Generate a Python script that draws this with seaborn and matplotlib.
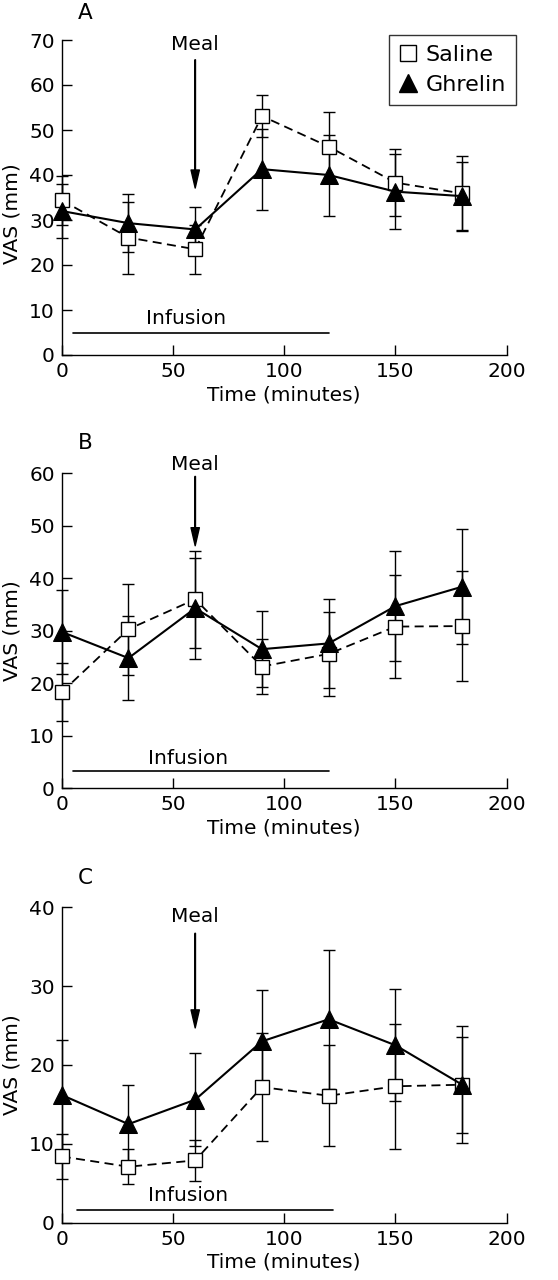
import matplotlib
matplotlib.use("Agg")
import matplotlib.pyplot as plt
import seaborn as sns
import pandas as pd
from matplotlib.lines import Line2D

# ---------------- data ----------------
time = [0, 30, 60, 90, 120, 150, 180]
xticks = [0, 50, 100, 150, 200]

A_saline = [34.4, 26.1, 23.5, 53.1, 46.3, 38.3, 35.9]
A_saline_err = [5.4, 8.0, 5.5, 4.7, 7.8, 7.4, 8.3]
A_ghrelin = [32.0, 29.3, 27.9, 41.3, 40.0, 36.3, 35.3]
A_ghrelin_err = [6.0, 6.5, 4.9, 9.0, 9.0, 8.4, 7.5]

B_saline = [18.3, 30.3, 36.0, 23.2, 25.6, 30.8, 30.9]
B_saline_err = [5.5, 8.7, 9.2, 5.3, 8.0, 9.8, 10.5]
B_ghrelin = [29.8, 24.8, 34.3, 26.5, 27.6, 34.7, 38.4]
B_ghrelin_err = [8.0, 8.0, 9.6, 7.2, 8.4, 10.5, 10.9]

C_saline = [8.4, 7.1, 7.9, 17.2, 16.1, 17.3, 17.5]
C_saline_err = [2.8, 2.2, 2.6, 6.8, 6.4, 7.9, 6.1]
C_ghrelin = [16.2, 12.5, 15.6, 23.0, 25.8, 22.5, 17.5]
C_ghrelin_err = [7.0, 5.0, 5.9, 6.5, 8.8, 7.1, 7.4]

panel_letters = ["A", "B", "C"]
ymax_list = [70, 60, 40]

# ---------------- style ----------------
sns.set_style("ticks")
plt.rcParams['font.family'] = ['DejaVu Sans']
plt.rcParams['text.color'] = 'black'
plt.rcParams['axes.labelcolor'] = 'black'
plt.rcParams['xtick.color'] = 'black'
plt.rcParams['ytick.color'] = 'black'
FS = 14.5

fig = plt.figure(figsize=(5.58, 12.8), dpi=100)

W = 558.0
H = 1280.0
ax_left_px, ax_right_px = 61.7, 506.7
panel_px = [(355.0, 40.0), (788.3, 473.3), (1222.7, 907.3)]
letter_y_px = [13, 443, 878]

layout = [
    dict(meal_y=68.9, a0=65.6, a1=37.1, inf_y=5.0, ix0=5, ix1=120, tx=55.7, ty=8.1, ylab_y=0.45),
    dict(meal_y=61.6, a0=59.4, a1=46.2, inf_y=3.3, ix0=5, ix1=120, tx=57, ty=5.7, ylab_y=0.5),
    dict(meal_y=38.8, a0=36.7, a1=24.7, inf_y=1.6, ix0=6.7, ix1=122, tx=57, ty=3.5, ylab_y=0.5),
]

series = [
    (A_saline, A_saline_err, A_ghrelin, A_ghrelin_err),
    (B_saline, B_saline_err, B_ghrelin, B_ghrelin_err),
    (C_saline, C_saline_err, C_ghrelin, C_ghrelin_err),
]

for i in range(3):
    bpx, tpx = panel_px[i]
    ax = fig.add_axes([ax_left_px / W, 1 - bpx / H,
                       (ax_right_px - ax_left_px) / W, (bpx - tpx) / H])
    sal, sal_e, ghr, ghr_e = series[i]
    lay = layout[i]

    ax.errorbar(time, sal, yerr=sal_e, fmt='none', ecolor='black',
                elinewidth=1.0, capsize=4.5, capthick=1.0, zorder=2, clip_on=False)
    ax.errorbar(time, ghr, yerr=ghr_e, fmt='none', ecolor='black',
                elinewidth=1.0, capsize=4.5, capthick=1.0, zorder=2, clip_on=False)

    df_s = pd.DataFrame({"Time": time, "VAS": sal})
    df_g = pd.DataFrame({"Time": time, "VAS": ghr})
    sns.lineplot(data=df_s, x="Time", y="VAS", ax=ax, color='black',
                 linestyle=(0, (5, 3)), linewidth=1.3, marker='s', markersize=10.5,
                 markerfacecolor='white', markeredgecolor='black', markeredgewidth=1.0,
                 zorder=3, clip_on=False)
    sns.lineplot(data=df_g, x="Time", y="VAS", ax=ax, color='black',
                 linestyle='-', linewidth=1.5, marker='^', markersize=12.5,
                 markerfacecolor='black', markeredgecolor='black',
                 zorder=4, clip_on=False)

    ax.set_xlim(0, 200)
    ax.set_ylim(0, ymax_list[i])
    ax.set_xticks(xticks)
    ax.set_yticks(list(range(0, ymax_list[i] + 1, 10)))
    sns.despine(ax=ax)
    for s in ['left', 'bottom']:
        ax.spines[s].set_linewidth(1.0)
        ax.spines[s].set_color('black')
    ax.tick_params(axis='both', direction='in', length=7, width=1.0,
                   labelsize=FS, colors='black', pad=5)
    ax.set_xlabel("Time (minutes)", fontsize=FS, labelpad=3)
    ax.set_ylabel("VAS (mm)", fontsize=FS)
    ax.yaxis.set_label_coords(-0.09, lay['ylab_y'])

    ax.text(60, lay['meal_y'], "Meal", ha='center', va='center', fontsize=FS,
            clip_on=False)
    ax.annotate('', xy=(60, lay['a1']), xytext=(60, lay['a0']),
                arrowprops=dict(width=0.4, headwidth=6, headlength=13,
                                facecolor='black', edgecolor='black', shrink=0),
                annotation_clip=False)

    ax.plot([lay['ix0'], lay['ix1']], [lay['inf_y'], lay['inf_y']],
            color='black', linewidth=1.2)
    ax.text(lay['tx'], lay['ty'], "Infusion", ha='center', va='center', fontsize=FS)

    fig.text(85 / W, 1 - letter_y_px[i] / H, panel_letters[i], ha='center',
             va='center', fontsize=FS + 1)

    if i == 0:
        handles = [
            Line2D([], [], linestyle='none', marker='s', markersize=11,
                   markerfacecolor='white', markeredgecolor='black'),
            Line2D([], [], linestyle='none', marker='^', markersize=13,
                   markerfacecolor='black', markeredgecolor='black'),
        ]
        leg = ax.legend(handles, ["Saline", "Ghrelin"], loc='upper right',
                        bbox_to_anchor=(515.7 / W, 1 - 35 / H),
                        bbox_transform=fig.transFigure, fontsize=FS + 1.5,
                        frameon=True, fancybox=False, handlelength=0.8,
                        handletextpad=0.4, borderpad=0.45, labelspacing=0.45,
                        borderaxespad=0)
        leg.get_frame().set_edgecolor('black')
        leg.get_frame().set_linewidth(1.0)
    else:
        if ax.get_legend() is not None:
            ax.get_legend().remove()

fig.savefig("out.png", dpi=100)
